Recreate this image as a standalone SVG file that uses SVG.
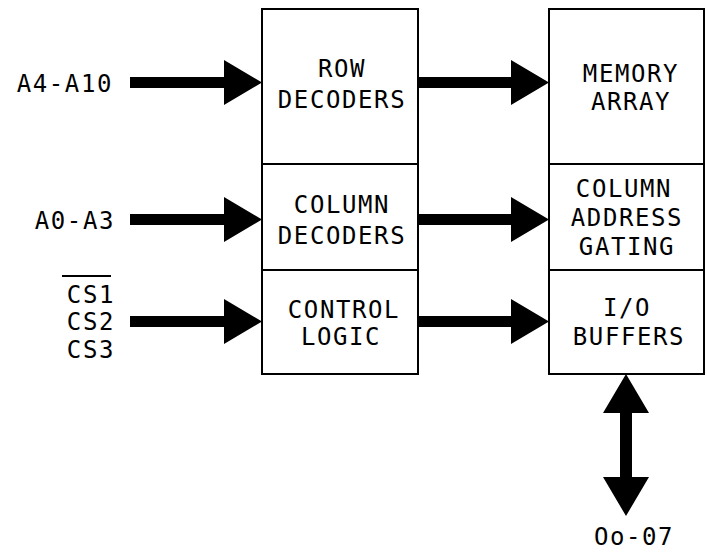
<svg xmlns="http://www.w3.org/2000/svg" width="707" height="558" viewBox="0 0 707 558">
<style>
text{font-family:"DejaVu Sans Mono","Liberation Mono",monospace;font-size:24px;letter-spacing:1.6px;fill:#000}
.m{text-anchor:middle}
.e{text-anchor:end}
.b{fill:#fff;stroke:#000;stroke-width:2}
.a{fill:#000;stroke:none}
</style>
<rect width="707" height="558" fill="#fff"/>
<g id="row-decoders"><rect class="b" x="262" y="9" width="156" height="155"/><text class="m" x="342" y="77">ROW</text><text class="m" x="342" y="108">DECODERS</text></g>
<g id="column-decoders"><rect class="b" x="262" y="164" width="156" height="106"/><text class="m" x="342" y="213">COLUMN</text><text class="m" x="342" y="244">DECODERS</text></g>
<g id="control-logic"><rect class="b" x="262" y="270" width="156" height="104"/><text class="m" x="344" y="318">CONTROL</text><text class="m" x="341" y="345">LOGIC</text></g>
<g id="memory-array"><rect class="b" x="549" y="9" width="155" height="155"/><text class="m" x="631" y="82">MEMORY</text><text class="m" x="631" y="110">ARRAY</text></g>
<g id="column-address-gating"><rect class="b" x="549" y="164" width="155" height="106"/><text class="m" x="624" y="197">COLUMN</text><text class="m" x="627" y="226">ADDRESS</text><text class="m" x="627" y="255">GATING</text></g>
<g id="io-buffers"><rect class="b" x="549" y="270" width="155" height="104"/><text class="m" x="627" y="316">I/O</text><text class="m" x="629" y="345">BUFFERS</text></g>
<g id="labels">
<text class="e" x="113" y="92">A4-A10</text>
<text class="e" x="115" y="229">A0-A3</text>
<text class="e" x="115" y="303">CS1</text>
<line x1="62" y1="276" x2="111" y2="276" stroke="#000" stroke-width="2"/>
<text class="e" x="115" y="330">CS2</text>
<text class="e" x="115" y="358">CS3</text>
<text class="m" x="634" y="545">Oo-07</text>
</g>
<g id="connectors">
<polygon class="a" points="130,77 224,77 224,60 262,82.5 224,105 224,88 130,88"/>
<polygon class="a" points="130,214 224,214 224,197 262,219.5 224,242 224,225 130,225"/>
<polygon class="a" points="130,316 224,316 224,299 262,321.5 224,344 224,327 130,327"/>
<polygon class="a" points="418,77 511,77 511,60 549,82.5 511,105 511,88 418,88"/>
<polygon class="a" points="418,214 511,214 511,197 549,219.5 511,242 511,225 418,225"/>
<polygon class="a" points="418,316 511,316 511,299 549,321.5 511,344 511,327 418,327"/>
<polygon class="a" points="626,374 649,413 632,413 632,477 649,477 626,516 603,477 620,477 620,413 603,413"/>
</g>
</svg>
